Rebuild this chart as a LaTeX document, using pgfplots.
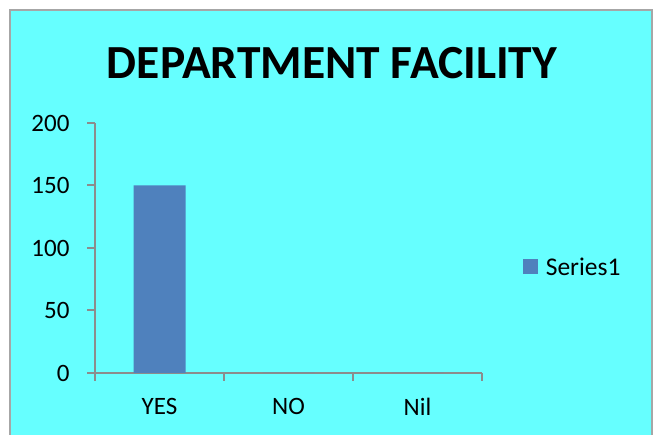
\documentclass[border=0pt]{standalone}
\usepackage{pgfplots}
\pgfplotsset{compat=1.18}
\usepackage{fontspec}
\setmainfont{Carlito}
\definecolor{bg}{HTML}{66FFFF}
\definecolor{barc}{HTML}{4F81BD}
\definecolor{axc}{HTML}{8C8C8C}
\definecolor{brd}{HTML}{A6A6A6}
\begin{document}
\begin{tikzpicture}[x=1pt,y=1pt]
\useasboundingbox (0,0) rectangle (655,435);
\fill[white] (0,0) rectangle (655,435);
\fill[bg] (10,0) rectangle (652,425);
\draw[brd,line width=2pt] (10,0) -- (10,425) -- (652,425) -- (652,0);
\node[font=\bfseries\fontsize{47.5}{50}\selectfont] at (332,372) {DEPARTMENT FACILITY};
\begin{axis}[
  at={(95pt,62pt)}, anchor=south west,
  scale only axis, width=387pt, height=250pt,
  xmin=-0.5, xmax=2.5, ymin=0, ymax=200,
  axis x line=bottom, axis y line=left,
  axis line style={-, axc, line width=2pt},
  ytick={0,50,100,150,200},
  yticklabels={0,50,100,150,200},
  xtick={0,1,2}, xticklabels={YES,NO,Nil},
  minor xtick={-0.5,0.5,1.5,2.5},
  major x tick style={draw=none},
  minor x tick style={axc, line width=2pt},
  minor tick length=8pt,
  major tick length=8pt,
  y tick style={axc, line width=2pt},
  tick align=outside,
  xticklabel style={font=\fontsize{25}{27}\selectfont, text=black, yshift=-14pt},
  yticklabel style={font=\fontsize{25}{27}\selectfont, text=black, xshift=-14pt},
  ybar, bar width=52pt,
  legend style={at={(1.105,0.424)}, anchor=west, draw=none, fill=none,
    inner sep=0pt, font=\fontsize{25.5}{27}\selectfont},
  legend image code/.code={\fill[#1] (0pt,-7pt) rectangle (15pt,8pt);},
  legend cell align=left,
  /tikz/every odd column/.append style={column sep=6pt},
]
\addplot[fill=barc, draw=none] coordinates {(0,150) (1,0) (2,0)};
\addlegendentry{Series1}
\end{axis}
\end{tikzpicture}
\end{document}
